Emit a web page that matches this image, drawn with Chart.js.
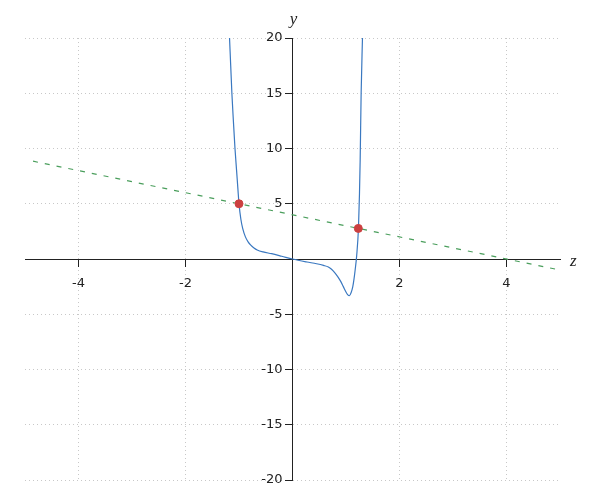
<!DOCTYPE html>
<html lang="en">
<head>
  <meta charset="UTF-8">
  <title>Curve and line</title>
  <script src="https://cdn.jsdelivr.net/npm/chart.js"></script>
  <style>
    body { margin: 0; background: #fff; }
    canvas { display: block; }
  </style>
</head>
<body>
<canvas id="chart" width="600" height="500"></canvas>
<script>
// values
const curveZ = [-1.177, -1.155, -1.133, -1.105, -1.075, -1.045, -1.02, -1.0, -0.965, -0.93,
  -0.88, -0.83, -0.78, -0.72, -0.66, -0.55, -0.39, -0.2, 0, 0.27,
  0.45, 0.58, 0.67, 0.73, 0.8, 0.89, 0.95, 0.99, 1.03, 1.064,
  1.095, 1.127, 1.15, 1.171, 1.2, 1.233, 1.252, 1.265, 1.283, 1.308];
const curveY = [20, 17.5, 15, 12.5, 10, 8, 6.3, 5, 3.6, 2.75,
  2.0, 1.55, 1.25, 1.0, 0.82, 0.64, 0.48, 0.25, 0, -0.27,
  -0.43, -0.58, -0.72, -0.93, -1.3, -1.93, -2.5, -2.9, -3.22, -3.32,
  -3.05, -2.5, -1.8, -1.0, 0.33, 2.8, 5.9, 9.0, 15, 20];

const lineZ = [-4.85, 5];
const lineY = [8.85, -1];

const pointZ = [-1, 1.23];
const pointY = [5, 2.77];

const xTicks = [-4, -2, 2, 4];
const yTicks = [-20, -15, -10, -5, 5, 10, 15, 20];

const toXY = (xs, ys) => xs.map((x, i) => ({x: x, y: ys[i]}));

// a y axis placed at z = 0 puts its labels right on the axis line,
// so push them left by tick length + padding
const shiftYLabels = {
  id: 'shiftYLabels',
  beforeDraw(chart) {
    const y = chart.scales.y;
    const shift = y.options.grid.tickLength + y.options.ticks.padding;
    y.getLabelItems(chart.chartArea).forEach(item => {
      if (!item._shifted) {
        item.options.translation[0] -= shift;
        item._shifted = true;
      }
    });
  }
};

const axisTitles = {
  id: 'axisTitles',
  afterDraw(chart) {
    const {ctx, scales: {x, y}} = chart;
    ctx.save();
    ctx.fillStyle = '#222';
    ctx.font = 'italic 17px "Liberation Serif"';
    ctx.textAlign = 'center';
    ctx.textBaseline = 'alphabetic';
    ctx.fillText('y', x.getPixelForValue(0) + 1, y.top - 14);
    ctx.textAlign = 'left';
    ctx.fillText('z', x.right + 10, y.getPixelForValue(0) + 7);
    ctx.restore();
  }
};

const tickFont = {family: '"DejaVu Sans"', size: 13};

new Chart(document.getElementById('chart').getContext('2d'), {
  type: 'scatter',
  data: {
    datasets: [{
      label: 'curve',
      data: toXY(curveZ, curveY),
      showLine: true,
      borderColor: '#3a78c0',
      borderWidth: 1.2,
      pointRadius: 0,
      cubicInterpolationMode: 'monotone',
      order: 2
    }, {
      label: 'line',
      data: toXY(lineZ, lineY),
      showLine: true,
      borderColor: '#4a9e5c',
      borderWidth: 1.2,
      borderDash: [5, 7],
      pointRadius: 0,
      order: 3
    }, {
      label: 'points',
      data: toXY(pointZ, pointY),
      showLine: false,
      pointRadius: 4,
      pointBackgroundColor: '#cc4040',
      pointBorderColor: '#cc4040',
      order: 1
    }]
  },
  options: {
    responsive: false,
    animation: false,
    layout: {padding: {left: 25, right: 40, top: 38, bottom: 20}},
    plugins: {legend: {display: false}, tooltip: {enabled: false}},
    scales: {
      x: {
        type: 'linear',
        min: -5,
        max: 5,
        position: {y: 0},
        afterBuildTicks: axis => { axis.ticks = xTicks.map(v => ({value: v})); },
        grid: {color: '#c8c8c8', tickColor: '#222', tickLength: 7},
        border: {color: '#222', width: 1, dash: [1, 3]},
        ticks: {color: '#222', font: tickFont, padding: 10, maxRotation: 0}
      },
      y: {
        type: 'linear',
        min: -20,
        max: 20,
        position: {x: 0},
        afterBuildTicks: axis => { axis.ticks = yTicks.map(v => ({value: v})); },
        grid: {color: '#c8c8c8', tickColor: '#222', tickLength: 7},
        border: {color: '#222', width: 1, dash: [1, 3]},
        ticks: {color: '#222', font: tickFont, padding: 3}
      }
    }
  },
  plugins: [shiftYLabels, axisTitles]
});
</script>
</body>
</html>
